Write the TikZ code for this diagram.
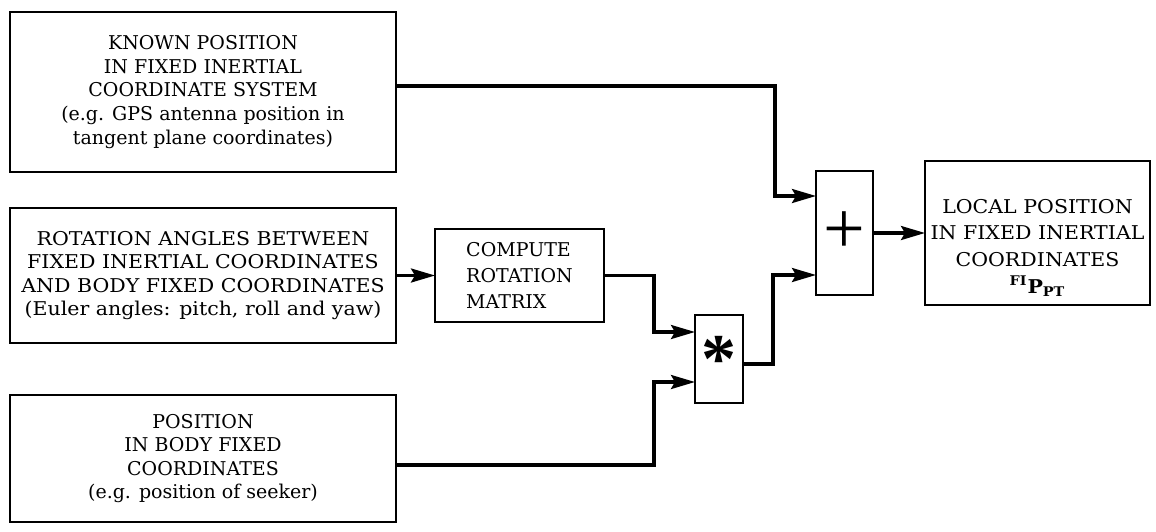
\documentclass[tikz,border=0pt]{standalone}
\usepackage{fontspec}
\setmainfont{DejaVu Serif}
\newfontfamily\widefont[FakeStretch=1.08]{DejaVu Serif}
\newfontfamily\opfont{Liberation Serif}
\usetikzlibrary{arrows.meta,positioning}

\begin{document}
\begin{tikzpicture}[
  x=0.5pt, y=-0.5pt,
  node distance=18pt and 19.5pt,
  box/.style={draw, line width=1.4pt, outer sep=0pt, align=center, inner sep=2pt,
    font=\fontsize{9.5}{11.8}\selectfont},
  opbox/.style={draw, line width=1.4pt, outer sep=0pt, inner sep=0pt},
  arr/.style={line width=1.6pt, -{Stealth[length=12pt,width=7pt,inset=2pt]}}
]
\useasboundingbox (0,0) rectangle (1156,531);
% inputs on the left
\node[box, minimum width=193pt, minimum height=80pt] (known) at (203,92)
  {KNOWN POSITION\\IN FIXED INERTIAL\\COORDINATE SYSTEM\\(e.g. GPS antenna position in\\tangent plane coordinates)};
\node[box, minimum width=193pt, minimum height=67.5pt, below=of known,
  font=\widefont\fontsize{9.5}{11.8}\selectfont] (rotang)
  {ROTATION ANGLES BETWEEN\\FIXED INERTIAL COORDINATES\\AND BODY FIXED COORDINATES\\(Euler angles: pitch, roll and yaw)};
\node[box, minimum width=193pt, minimum height=63.5pt, below=26pt of rotang] (bodypos)
  {POSITION\\IN BODY FIXED\\COORDINATES\\(e.g. position of seeker)};
% processing
\node[box, align=left, minimum width=84.5pt, minimum height=46.5pt, right=of rotang,
  font=\fontsize{9.5}{13}\selectfont] (compute) {COMPUTE\\ROTATION\\MATRIX};
\node[opbox, minimum width=24pt, minimum height=44pt, right=45.5pt of compute, yshift=-41.75pt,
  font=\opfont\bfseries\fontsize{35}{35}\selectfont] (mult) {*};
\node[opbox, minimum width=28.5pt, minimum height=62pt, right=36.5pt of mult, yshift=63pt,
  font=\opfont\fontsize{37}{37}\selectfont] (plus) {+};
\node[box, minimum width=112.5pt, minimum height=72pt, right=26pt of plus,
  font=\widefont\fontsize{9.5}{13.4}\selectfont] (local)
  {\rule{0pt}{22pt}LOCAL POSITION\\IN FIXED INERTIAL\\COORDINATES\\{\bfseries\textsuperscript{FI}P\textsubscript{PT}}};
% input points on the operators
\coordinate (multin1) at ([yshift=13.5pt]mult.west);
\coordinate (multin2) at ([yshift=-11.5pt]mult.west);
\coordinate (plusin1) at ([yshift=18.5pt]plus.west);
\coordinate (plusin2) at ([yshift=-21pt]plus.west);
\draw[arr] ([yshift=3pt]known.east) -| ([xshift=-20.5pt]plusin1) -- (plusin1);
\draw[arr] (rotang.east) -- (rotang.east -| compute.west);
\draw[arr] (compute.east) -| ([xshift=-20.5pt]multin1) -- (multin1);
\draw[arr] ([yshift=-3.25pt]bodypos.east) -| ([xshift=-20.5pt]multin2) -- (multin2);
\draw[arr] ([yshift=-2.5pt]mult.east) -| ([xshift=-21.5pt]plusin2) -- (plusin2);
\draw[arr] (plus.east) -- (local.west);
\end{tikzpicture}
\end{document}
